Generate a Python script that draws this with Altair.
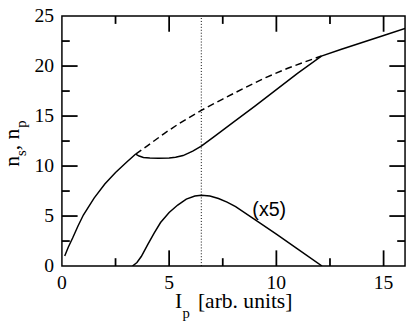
import altair as alt
import pandas as pd

# ---- data ----
left_x = [0.13, 0.3, 0.5, 0.75, 1.0, 1.5, 2.0, 2.5, 3.0, 3.44]
left_y = [1.0, 1.9, 2.8, 4.0, 5.1, 6.8, 8.2, 9.35, 10.35, 11.2]

upper_x = [3.44, 3.6, 3.8, 4.1, 4.5, 5.0, 5.3, 5.65, 6.1, 6.5, 7.1, 8.0, 9.0, 10.0, 11.0, 12.1, 13.0, 14.0, 15.0, 16.0]
upper_y = [11.2, 11.0, 10.85, 10.8, 10.78, 10.8, 10.88, 11.05, 11.5, 12.0, 12.95, 14.4, 16.0, 17.65, 19.3, 21.0, 21.65, 22.35, 23.05, 23.75]

dashed_x = [3.44, 4.0, 4.8, 5.5, 6.5, 7.5, 8.5, 9.5, 10.5, 11.3, 12.1]
dashed_y = [11.2, 12.05, 13.3, 14.3, 15.57, 16.7, 17.8, 18.85, 19.75, 20.4, 21.0]

lower_x = [3.29, 3.5, 3.7, 4.0, 4.3, 4.6, 5.0, 5.4, 5.8, 6.2, 6.5, 6.9, 7.3, 7.7, 8.1, 9.0, 10.0, 11.0, 12.13]
lower_y = [0.0, 0.35, 0.95, 2.15, 3.3, 4.35, 5.35, 6.1, 6.7, 7.0, 7.08, 7.0, 6.75, 6.4, 5.95, 4.65, 3.2, 1.7, 0.0]

vline_x = [6.5]
label_text = ["(x5)"]
label_x = [8.88]
label_y = [5.0]

x_ticks = [0, 5, 10, 15]
y_ticks = [0, 5, 10, 15, 20, 25]
x_major = [5, 10, 15]
x_minor = [2.5, 7.5, 12.5]
y_major = [5, 10, 15, 20]
y_minor = [2.5, 7.5, 12.5, 17.5, 22.5]

W, H = 350, 255
X0, X1, Y0, Y1 = 0, 16, 0, 25
SERIF = "'Liberation Serif', 'Times New Roman', serif"
SANS = "'Liberation Sans', Arial, sans-serif"

xs = alt.Scale(domain=[X0, X1], nice=False, zero=False)
ys = alt.Scale(domain=[Y0, Y1], nice=False, zero=False)


def X(f):
    return alt.X(f, scale=xs, axis=None)


def Y(f):
    return alt.Y(f, scale=ys, axis=None)


def series(xv, yv):
    return pd.DataFrame({"x": xv, "y": yv, "i": list(range(len(xv)))})


def line(df, dash=None):
    kw = dict(color="black", strokeWidth=1.5, clip=True)
    if dash:
        kw["strokeDash"] = dash
    return alt.Chart(df).mark_line(**kw).encode(x=X("x:Q"), y=Y("y:Q"), order="i:Q")


# inward tick marks on all four sides (pixel lengths converted to data units)
ux = (X1 - X0) / W
uy = (Y1 - Y0) / H


def xt(vals, length):
    l = length * uy
    rows = [(v, Y0, Y0 + l) for v in vals] + [(v, Y1, Y1 - l) for v in vals]
    d = pd.DataFrame(rows, columns=["tx", "a", "b"])
    return alt.Chart(d).mark_rule(color="black", strokeWidth=1.8).encode(
        x=X("tx:Q"), y=Y("a:Q"), y2="b:Q")


def yt(vals, length):
    l = length * ux
    rows = [(v, X0, X0 + l) for v in vals] + [(v, X1, X1 - l) for v in vals]
    d = pd.DataFrame(rows, columns=["ty", "a", "b"])
    return alt.Chart(d).mark_rule(color="black", strokeWidth=1.8).encode(
        y=Y("ty:Q"), x=X("a:Q"), x2="b:Q")


layers = [xt(x_major, 16), xt(x_minor, 8), yt(y_major, 16), yt(y_minor, 8)]

layers += [
    line(series(left_x, left_y)),
    line(series(upper_x, upper_y)),
    line(series(dashed_x, dashed_y), dash=[7, 4]),
    line(series(lower_x, lower_y)),
]

vdf = pd.DataFrame({"x": vline_x, "y0": [Y0], "y1": [Y1]})
layers.append(
    alt.Chart(vdf).mark_rule(color="black", strokeWidth=1, strokeDash=[1, 2]).encode(
        x=X("x:Q"), y=Y("y0:Q"), y2="y1:Q")
)

ldf = pd.DataFrame({"x": label_x, "y": label_y, "t": label_text})
layers.append(
    alt.Chart(ldf).mark_text(font=SANS, fontSize=20, align="left",
                             baseline="alphabetic", color="black").encode(
        x=X("x:Q"), y=Y("y:Q"), text="t:N")
)

# tick labels, placed through the scales
xl = pd.DataFrame({"v": x_ticks, "t": [str(v) for v in x_ticks]})
layers.append(
    alt.Chart(xl).mark_text(font=SERIF, fontSize=20, align="center", baseline="alphabetic",
                            color="black").encode(x=X("v:Q"), y=alt.value(H + 23), text="t:N")
)
yl = pd.DataFrame({"v": y_ticks, "t": [str(v) for v in y_ticks]})
layers.append(
    alt.Chart(yl).mark_text(font=SERIF, fontSize=20, align="right", baseline="middle",
                            color="black").encode(y=Y("v:Q"), x=alt.value(-8), text="t:N")
)


# axis titles with real subscripts (positions relative to the plot area)
def txt(s, x, y, size, angle=0):
    d = pd.DataFrame({"t": [s]})
    kw = dict(font=SERIF, fontSize=size, align="left", baseline="alphabetic", color="black")
    if angle:
        kw["angle"] = angle
    return alt.Chart(d).mark_text(**kw).encode(x=alt.value(x), y=alt.value(y), text="t:N")


layers += [
    txt("I", 115.3, 298, 22),
    txt("p", 123, 308, 15),
    txt("[arb. units]", 138.7, 298, 22),
    txt("n", -44, 153.7, 22, 270),
    txt("s", -37, 142.7, 15, 270),
    txt(", n", -44, 137, 22, 270),
    txt("p", -37, 114, 15, 270),
]

chart = alt.layer(*layers).properties(
    width=W, height=H,
    autosize=alt.AutoSizeParams(type="none"),
    padding={"left": 55, "top": 5, "right": 2, "bottom": 61},
    background="white",
).configure_view(stroke="black", strokeWidth=1.5)

chart.save("out.html", embed_options={"renderer": "svg", "actions": False})
